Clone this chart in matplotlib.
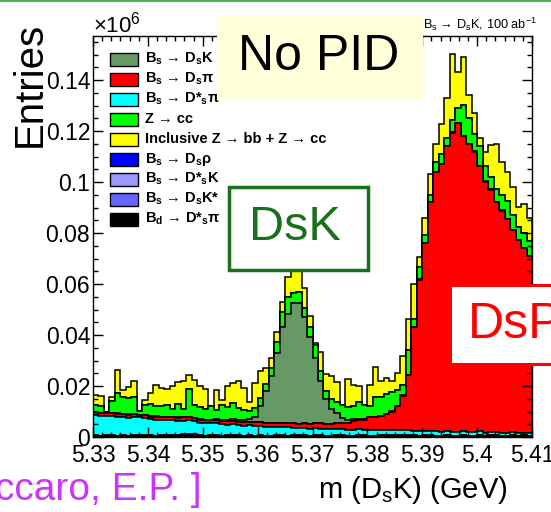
import numpy as np
import matplotlib
matplotlib.use("Agg")
import matplotlib.pyplot as plt
from matplotlib.patches import Rectangle
from matplotlib.lines import Line2D
from matplotlib.ticker import MultipleLocator, AutoMinorLocator, FuncFormatter

plt.rcParams['font.family'] = ['Liberation Sans', 'DejaVu Sans']
plt.rcParams['mathtext.fontset'] = 'custom'
plt.rcParams['mathtext.rm'] = 'Liberation Sans'
plt.rcParams['mathtext.bf'] = 'Liberation Sans:bold'
plt.rcParams['mathtext.it'] = 'Liberation Sans:italic'

# binning: 80 bins of 1 MeV between 5.33 and 5.41 GeV
m_lo, m_hi, n_bins = 5.33, 5.41, 80

# entries per bin, in thousands, stacked bottom -> top
bd_dsstarpi = [0.2, 0.2, 0.2, 0.1, 0.2, 0.2, 0.1, 0.2, 0.2, 0.2,
               0.2, 0.1, 0.2, 0.2, 0.2, 0.1, 0.2, 0.2, 0.2, 0.2,
               0.1, 0.2, 0.2, 0.2, 0.1, 0.2, 0.2, 0.2, 0.1, 0.2,
               0.2, 0.2, 0.1, 0.2, 0.2, 0.1, 0.2, 0.2, 0.2, 0.1,
               0.2, 0.2, 0.1, 0.2, 0.2, 0.2, 0.1, 0.2, 0.2, 0.2,
               0.1, 0.2, 0.2, 0.2, 0.1, 0.2, 0.2, 0.2, 0.2, 0.1,
               0.2, 0.2, 0.1, 0.2, 0.2, 0.2, 0.1, 0.2, 0.2, 0.1,
               0.2, 0.1, 0.2, 0.2, 0.1, 0.2, 0.2, 0.1, 0.2, 0.2]
bs_dsstark = [0.1, 0.0, 0.1, 0.1, 0.0, 0.1, 0.1, 0.0, 0.1, 0.1,
              0.0, 0.1, 0.1, 0.0, 0.1, 0.1, 0.1, 0.0, 0.1, 0.1,
              0.0, 0.1, 0.1, 0.0, 0.1, 0.1, 0.0, 0.1, 0.1, 0.0,
              0.1, 0.1, 0.0, 0.1, 0.1, 0.0, 0.1, 0.1, 0.0, 0.1,
              0.1, 0.0, 0.1, 0.1, 0.0, 0.1, 0.1, 0.0, 0.1, 0.1,
              0.0, 0.1, 0.1, 0.0, 0.1, 0.1, 0.0, 0.1, 0.1, 0.0,
              0.1, 0.1, 0.0, 0.1, 0.1, 0.0, 0.1, 0.1, 0.0, 0.1,
              0.1, 0.0, 0.1, 0.1, 0.0, 0.1, 0.1, 0.0, 0.1, 0.1]
bs_dskstar = [0.1, 0.1, 0.0, 0.1, 0.1, 0.1, 0.0, 0.1, 0.1, 0.1,
              0.1, 0.0, 0.1, 0.1, 0.1, 0.0, 0.1, 0.1, 0.1, 0.0,
              0.1, 0.1, 0.1, 0.0, 0.1, 0.1, 0.1, 0.0, 0.1, 0.1,
              0.1, 0.0, 0.1, 0.1, 0.1, 0.0, 0.1, 0.1, 0.1, 0.0,
              0.1, 0.1, 0.1, 0.0, 0.1, 0.1, 0.1, 0.0, 0.1, 0.1,
              0.1, 0.0, 0.1, 0.1, 0.1, 0.0, 0.1, 0.1, 0.1, 0.0,
              0.1, 0.1, 0.1, 0.0, 0.1, 0.1, 0.1, 0.0, 0.1, 0.1,
              0.1, 0.0, 0.1, 0.1, 0.1, 0.0, 0.1, 0.1, 0.1, 0.0]
bs_dsrho = [0.3, 0.2, 0.3, 0.3, 0.2, 0.3, 0.2, 0.3, 0.3, 0.2,
            0.3, 0.2, 0.3, 0.3, 0.4, 0.5, 0.7, 0.8, 0.6, 0.3,
            0.2, 0.3, 0.2, 0.3, 0.3, 0.2, 0.3, 0.2, 0.3, 0.2,
            0.3, 0.2, 0.2, 0.3, 0.2, 0.3, 0.2, 0.2, 0.3, 0.2,
            0.2, 0.3, 0.2, 0.2, 0.3, 0.2, 0.2, 0.3, 0.2, 0.2,
            0.3, 0.2, 0.2, 0.3, 0.3, 0.4, 0.4, 0.3, 0.3, 0.2,
            0.3, 0.2, 0.3, 0.2, 0.3, 0.2, 0.2, 0.3, 0.2, 0.2,
            0.3, 0.2, 0.2, 0.3, 0.2, 0.2, 0.3, 0.2, 0.2, 0.2]
bs_dsstarpi = [7.9, 7.8, 7.6, 7.7, 7.4, 7.3, 7.2, 7.3, 7.0, 6.9,
               6.3, 6.2, 6.0, 6.1, 5.8, 5.7, 5.3, 5.5, 5.2, 5.0,
               4.9, 4.6, 4.8, 4.5, 4.3, 4.4, 4.1, 3.9, 4.0, 3.8,
               3.7, 3.5, 3.6, 3.4, 3.3, 3.4, 3.1, 3.0, 3.1, 2.9,
               2.8, 2.7, 2.8, 2.6, 2.5, 2.6, 2.4, 2.3, 2.4, 2.2,
               2.2, 2.1, 2.2, 2.0, 2.1, 1.9, 2.0, 1.9, 1.8, 1.9,
               1.8, 1.7, 1.8, 1.6, 1.7, 1.6, 1.5, 1.6, 1.5, 1.4,
               1.5, 1.4, 1.3, 1.4, 1.3, 1.2, 1.3, 1.2, 1.1, 1.2]
bs_dspi = [1.1, 1.0, 1.2, 1.1, 1.3, 1.0, 1.2, 1.1, 1.0, 1.2,
           1.1, 1.3, 1.2, 1.0, 1.2, 1.1, 1.3, 1.2, 1.1, 1.2,
           1.3, 1.2, 1.4, 1.3, 1.2, 1.4, 1.3, 1.5, 1.4, 1.4,
           1.5, 1.4, 1.6, 1.5, 1.6, 1.5, 1.7, 1.6, 1.7, 1.8,
           1.9, 2.0, 1.9, 2.1, 2.2, 2.3, 2.5, 3.6, 3.8, 4.0,
           5.1, 5.2, 5.3, 6.4, 7.3, 9.5, 13.5, 21.6, 40.6, 59.5,
           73.6, 89.7, 101.6, 104.8, 111.7, 117.3, 121.0, 115.8, 113.0, 110.0,
           104.0, 98.5, 95.1, 90.0, 87.1, 83.7, 79.1, 75.7, 72.3, 69.2]
bs_dsk = [0.1, 0.1, 0.2, 0.1, 0.1, 0.1, 0.2, 0.1, 0.1, 0.1,
          0.1, 0.2, 0.1, 0.1, 0.1, 0.2, 0.1, 0.1, 0.2, 0.1,
          0.2, 0.2, 0.3, 0.3, 0.4, 0.5, 0.6, 0.8, 1.2, 2.3,
          6.3, 12.5, 18.3, 27.5, 37.5, 43.0, 47.3, 47.5, 41.8, 34.0,
          25.7, 16.7, 9.7, 5.7, 4.0, 2.0, 1.3, 0.6, 0.4, 0.3,
          0.2, 0.2, 0.1, 0.1, 0.1, 0.1, 0.1, 0.1, 0.1, 0.1,
          0.1, 0.1, 0.1, 0.1, 0.1, 0.1, 0.1, 0.1, 0.1, 0.1,
          0.1, 0.1, 0.1, 0.1, 0.1, 0.1, 0.1, 0.1, 0.1, 0.1]
z_cc = [2.7, 2.8, 0.3, 4.8, 8.0, 6.5, 6.4, 6.4, 1.4, 3.6,
        4.8, 4.1, 4.3, 4.8, 3.2, 5.2, 3.1, 11.0, 5.0, 4.9,
        4.3, 5.6, 3.5, 5.8, 5.4, 6.3, 4.7, 3.7, 2.9, 3.5,
        3.0, 3.0, 3.0, 4.0, 6.0, 6.5, 3.9, 4.3, 3.3, 4.0,
        5.0, 4.0, 3.0, 4.0, 4.5, 5.0, 5.1, 5.0, 6.6, 5.4,
        4.0, 7.7, 7.6, 7.9, 7.4, 6.3, 4.2, 9.8, 3.0, 5.0,
        3.0, 3.0, 4.0, 4.0, 3.0, 5.0, 6.0, 12.0, 10.0, 7.0,
        8.0, 6.0, 5.0, 5.0, 6.0, 7.0, 6.0, 5.0, 6.0, 6.0]
incl_z = [4.0, 4.0, 0.0, 1.5, 8.8, 3.0, 4.1, 6.6, 0.0, 2.3,
          4.3, 8.1, 6.8, 6.2, 8.9, 8.5, 11.2, 5.4, 9.7, 8.3,
          7.8, 0.0, 7.8, 2.0, 8.1, 8.1, 10.7, 9.0, 3.5, 9.5,
          10.5, 6.0, 4.0, 4.0, 4.0, 7.9, 10.3, 9.8, 7.8, 4.5,
          1.0, 7.5, 7.0, 9.0, 7.9, 0.0, 11.1, 8.5, 6.2, 0.0,
          8.4, 11.8, 6.2, 6.0, 4.5, 6.6, 11.1, 12.0, 14.0, 3.9,
          6.9, 7.9, 6.9, 11.9, 15.9, 25.9, 13.9, 18.9, 8.9, 7.9,
          2.9, 5.4, 12.4, 17.9, 12.9, 11.4, 10.9, 7.9, 11.4, 8.9]

stack = [bd_dsstarpi, bs_dsstark, bs_dskstar, bs_dsrho, bs_dsstarpi,
         bs_dspi, bs_dsk, z_cc, incl_z]
stack_colors = ['black', '#9999ff', '#6666ff', '#0000ff', '#00ffff',
                '#ff0000', '#669966', '#00ff00', '#ffff00']

legend_labels = [r'B$_\mathbf{s}$ → D$_\mathbf{s}$K',
                 r'B$_\mathbf{s}$ → D$_\mathbf{s}$π',
                 r'B$_\mathbf{s}$ → D*$_\mathbf{s}$π',
                 'Z → cc',
                 'Inclusive Z → bb + Z → cc',
                 r'B$_\mathbf{s}$ → D$_\mathbf{s}$ρ',
                 r'B$_\mathbf{s}$ → D*$_\mathbf{s}$K',
                 r'B$_\mathbf{s}$ → D$_\mathbf{s}$K*',
                 r'B$_\mathbf{d}$ → D*$_\mathbf{s}$π']
legend_colors = ['#669966', '#ff0000', '#00ffff', '#00ff00', '#ffff00',
                 '#0000ff', '#9999ff', '#6666ff', 'black']

W, H = 551, 512


def fx(px):
    return px / W


def fy(py):
    return 1 - py / H


fig = plt.figure(figsize=(W / 100, H / 100), dpi=100)
ax = fig.add_axes([fx(93), fy(437), (532 - 93) / W, (437 - 36) / H])

edges = np.linspace(m_lo, m_hi, n_bins + 1)
centers = 0.5 * (edges[:-1] + edges[1:])
weights = [np.array(s) / 1000.0 for s in stack]  # -> units of 10^6 entries
ax.hist([centers] * len(stack), bins=edges, weights=weights, stacked=True,
        histtype='stepfilled', color=stack_colors, edgecolor='black', linewidth=1.1)

ax.set_xlim(m_lo, m_hi)
ax.set_ylim(0, 0.1573)
ax.xaxis.set_major_locator(MultipleLocator(0.01))
ax.xaxis.set_minor_locator(AutoMinorLocator(6))
ax.yaxis.set_major_locator(MultipleLocator(0.02))
ax.yaxis.set_minor_locator(AutoMinorLocator(4))
ax.xaxis.set_major_formatter(FuncFormatter(lambda v, p: '%g' % round(v, 2)))
ax.yaxis.set_major_formatter(FuncFormatter(lambda v, p: '0' if abs(v) < 1e-9 else '%g' % round(v, 2)))
ax.tick_params(which='both', direction='in', top=True, right=True, width=1.0, labelsize=16.5)
ax.tick_params(which='major', length=7)
ax.tick_params(which='minor', length=3.5)
ax.tick_params(axis='y', pad=2)
ax.tick_params(axis='x', pad=5)
for sp in ax.spines.values():
    sp.set_linewidth(1.0)

fig.text(fx(93), fy(33), r'$\times10^{6}$', fontsize=16, ha='left', va='baseline')
fig.text(fx(30), fy(84), 'Entries', rotation=90, fontsize=29, ha='center', va='center')
fig.text(fx(318), fy(498), r'm (D$_\mathrm{s}$K) (GeV)', fontsize=21, ha='left', va='baseline')
fig.text(fx(537), fy(29), r'B$_\mathrm{s}$ → D$_\mathrm{s}$K, 100 ab$^{-1}$', fontsize=9.2,
         ha='right', va='baseline')
fig.text(fx(-5), fy(500), 'ccaro, E.P. ]', fontsize=28, color='#cc33ff', ha='left', va='baseline')

# legend
for i, (lab, col) in enumerate(zip(legend_labels, legend_colors)):
    yc = 59 + 20 * i
    fig.add_artist(Rectangle((fx(110), fy(yc + 6.5)), 28 / W, 13 / H, transform=fig.transFigure,
                             facecolor=col, edgecolor='black', linewidth=1.0, zorder=1))
    fig.text(fx(145), fy(yc), lab, fontsize=10.5, fontweight='bold', ha='left', va='center',
             zorder=2)

# annotation boxes
fig.add_artist(Rectangle((fx(217), fy(99)), (423 - 217) / W, (99 - 16) / H, transform=fig.transFigure,
                         facecolor='#ffffd9', edgecolor='none', zorder=5))
fig.text(fx(319), fy(57), 'No PID', fontsize=36, ha='center', va='center', zorder=6)

fig.add_artist(Rectangle((fx(228.5), fy(269.5)), (367.5 - 228.5) / W, (269.5 - 186.5) / H,
                         transform=fig.transFigure, facecolor='white', edgecolor='#19701a',
                         linewidth=2.5, zorder=5))
fig.text(fx(295), fy(228), 'DsK', fontsize=35, color='#19701a', ha='center', va='center', zorder=6)

fig.add_artist(Rectangle((fx(449.5), fy(363.5)), (600 - 449.5) / W, (363.5 - 284.5) / H,
                         transform=fig.transFigure, facecolor='white', edgecolor='#ff0000',
                         linewidth=2.2, zorder=5))
fig.text(fx(468), fy(325), 'DsPi', fontsize=36, color='#ff0000', ha='left', va='center', zorder=6)

fig.add_artist(Line2D([0, 1], [fy(1), fy(1)], transform=fig.transFigure, color='#55b155',
                      linewidth=1.5, zorder=7))

fig.savefig('out.png', dpi=100)
